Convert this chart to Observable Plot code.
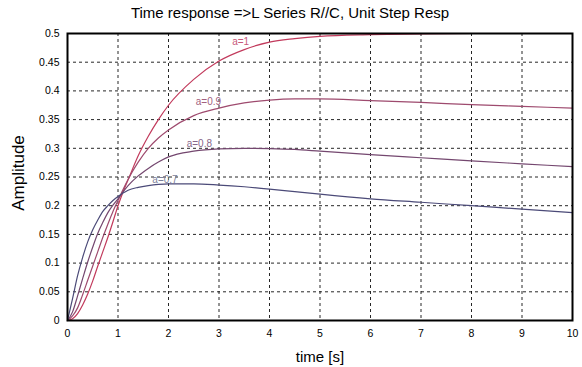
<!DOCTYPE html>
<html>
<head>
<meta charset="utf-8">
<script src="https://cdn.jsdelivr.net/npm/d3@7"></script>
<script src="https://cdn.jsdelivr.net/npm/@observablehq/plot@0.6"></script>
<style>
  html, body { margin: 0; padding: 0; background: #fff; }
  #chart svg { display: block; }
</style>
</head>
<body>
<div id="chart"></div>
<script>
// Step response samples (time in seconds)
const times = [0, 0.1, 0.2, 0.3, 0.4, 0.5, 0.6, 0.7, 0.8, 0.9, 1.0, 1.1, 1.2, 1.4, 1.6, 1.8, 2.0, 2.5, 3, 3.5, 4, 4.5, 5, 6, 7, 8, 9, 10];

const respA10 = [0, 0.003, 0.012, 0.027, 0.046, 0.069, 0.095, 0.12, 0.145, 0.172, 0.2, 0.224, 0.245, 0.287, 0.321, 0.35, 0.375, 0.42, 0.452, 0.472, 0.485, 0.491, 0.495, 0.498, 0.4995, 0.5, 0.5, 0.5];
const respA09 = [0, 0.008, 0.022, 0.045, 0.07, 0.095, 0.12, 0.145, 0.168, 0.19, 0.209, 0.228, 0.246, 0.276, 0.3, 0.318, 0.332, 0.357, 0.37, 0.379, 0.384, 0.386, 0.386, 0.383, 0.38, 0.376, 0.373, 0.37];
const respA08 = [0, 0.015, 0.043, 0.073, 0.102, 0.128, 0.152, 0.171, 0.188, 0.201, 0.212, 0.224, 0.235, 0.252, 0.265, 0.276, 0.285, 0.295, 0.299, 0.3, 0.2995, 0.298, 0.295, 0.289, 0.2835, 0.278, 0.273, 0.268];
const respA07 = [0, 0.038, 0.078, 0.11, 0.137, 0.158, 0.175, 0.19, 0.2, 0.209, 0.216, 0.222, 0.227, 0.232, 0.235, 0.237, 0.238, 0.238, 0.236, 0.233, 0.229, 0.2245, 0.22, 0.212, 0.206, 0.2, 0.194, 0.188];

const seriesNames = ["a=1", "a=0.9", "a=0.8", "a=0.7"];
const seriesValues = [respA10, respA09, respA08, respA07];

// Curve annotations: text start (t) and baseline level (amplitude)
const labelTimes = [3.26, 2.54, 2.36, 1.68];
const labelLevels = [0.485, 0.381, 0.307, 0.245];

const xTicks = [0, 1, 2, 3, 4, 5, 6, 7, 8, 9, 10];
const yTicks = [0, 0.05, 0.1, 0.15, 0.2, 0.25, 0.3, 0.35, 0.4, 0.45, 0.5];

const lineColors = ["#c23a5c", "#9e4a6e", "#74476f", "#4b4a78"];
const labelColors = ["#c8587a", "#a3607e", "#86678a", "#7c7f99"];

const rows = seriesNames.flatMap((name, i) =>
  times.map((t, j) => ({name, t, v: seriesValues[i][j]}))
);
const labelRows = seriesNames.map((name, i) => ({name, t: labelTimes[i], v: labelLevels[i]}));

const font = "'Liberation Sans', Arial, Helvetica, sans-serif";

const chart = Plot.plot({
  width: 582,
  height: 367,
  marginTop: 33,
  marginLeft: 67,
  marginRight: 10,
  marginBottom: 47,
  style: {fontFamily: font, background: "#fff", color: "#000"},
  x: {domain: [0, 10]},
  y: {domain: [0, 0.5]},
  color: {domain: seriesNames, range: lineColors},
  marks: [
    Plot.gridX(xTicks, {stroke: "#000", strokeOpacity: 0.85, strokeDasharray: "3,3", strokeWidth: 1}),
    Plot.gridY(yTicks, {stroke: "#000", strokeOpacity: 0.85, strokeDasharray: "3,3", strokeWidth: 1}),
    Plot.axisX(xTicks, {tickSize: 0, tickPadding: 9, fontSize: 10.5, tickFormat: d => String(d), label: null}),
    Plot.axisY(yTicks, {tickSize: 0, tickPadding: 8, fontSize: 10.5, tickFormat: d => String(d), label: null}),
    Plot.line(rows, {x: "t", y: "v", z: "name", stroke: "name", strokeWidth: 1.2, curve: "monotone-x"}),
    Plot.text(labelRows, {
      x: "t", y: "v", text: "name", textAnchor: "start", fontSize: 10,
      fill: (d) => labelColors[seriesNames.indexOf(d.name)]
    }),
    Plot.frame({stroke: "#000", strokeWidth: 2}),
    Plot.text(["Time response =>L Series R//C, Unit Step Resp"], {frameAnchor: "top", textAnchor: "middle", lineAnchor: "middle", dx: -30, dy: -20, fontSize: 15}),
    Plot.text(["time [s]"], {frameAnchor: "bottom", textAnchor: "middle", lineAnchor: "middle", dy: 37, fontSize: 15}),
    Plot.text(["Amplitude"], {frameAnchor: "left", textAnchor: "middle", lineAnchor: "middle", dx: -49, dy: -4, rotate: -90, fontSize: 17})
  ]
});

document.getElementById("chart").append(chart);
</script>
</body>
</html>
